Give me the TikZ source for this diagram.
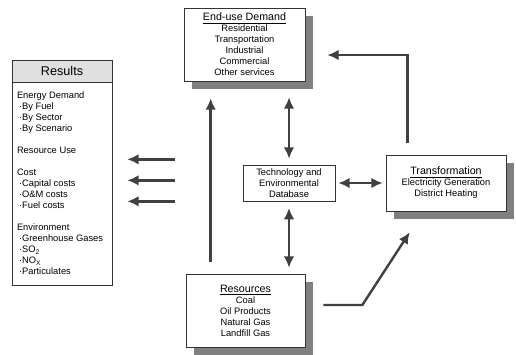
\documentclass[tikz,border=0pt]{standalone}
\usepackage{fontspec}
\setmainfont{Liberation Sans}
\usetikzlibrary{positioning,arrows.meta,calc,shadows}

\begin{document}
\begin{tikzpicture}[x=.75pt,y=-.75pt,>={Latex[length=8.5pt,width=8pt]},
  box/.style={draw=black!80,line width=.5pt,fill=white,align=center,inner sep=0pt,
    font=\fontsize{7}{8.25}\selectfont},
  shadowbox/.style={box,drop shadow={shadow xshift=6pt,shadow yshift=-6pt,
    fill=black!50,opacity=1}},
  flow/.style={draw=black!75,line width=1.8pt}]
 \useasboundingbox (0,0) rectangle (516,354);
 % boxes
 \node[shadowbox,minimum width=90.75pt,minimum height=54.75pt] (eud) at (244.5,44.5)
   {{\fontsize{8}{9}\selectfont\underline{End-use Demand}}\\Residential\\
    Transportation\\Industrial\\Commercial\\Other services};
 \node[box,minimum width=69pt,minimum height=27pt] (tech) at (289,183)
   {Technology and\\Environmental\\Database};
 \node[shadowbox,minimum width=90pt,minimum height=42pt] (trans) at (446,183)
   {{\fontsize{8}{9}\selectfont\underline{Transformation}}\\Electricity Generation\\
    District Heating};
 \node[shadowbox,minimum width=89.25pt,minimum height=54.75pt] (res) at (245.5,310.5)
   {{\fontsize{8}{9}\selectfont\underline{Resources}}\\Coal\\Oil Products\\
    Natural Gas\\Landfill Gas};
 \node[box,fill=black!12,minimum width=75pt,minimum height=16.5pt,
   font=\fontsize{9.5}{11}\selectfont] (restitle) at (62,71) {Results};
 \node[box,anchor=north,align=left,inner xsep=3.75pt,inner ysep=4pt] (resbody)
   at (restitle.south) {\parbox[t][144.25pt][t]{67.5pt}{\raggedright
   \rule{0pt}{8pt}Energy Demand\\
   \hspace*{1.5pt}·By Fuel\\
   \hspace*{1.5pt}·By Sector\\
   \hspace*{1.5pt}·By Scenario\\[8.25pt]
   Resource Use\\[8.25pt]
   Cost\\
   \hspace*{1.5pt}·Capital costs\\
   \hspace*{1.5pt}·O\&M costs\\
   \hspace*{1.5pt}·Fuel costs\\[8.25pt]
   Environment\\
   \hspace*{1.5pt}·Greenhouse Gases\\
   \hspace*{1.5pt}·SO\textsubscript{2}\\
   \hspace*{1.5pt}·NO\textsubscript{X}\\
   \hspace*{1.5pt}·Particulates}};
 % connectors
 \draw[flow,->] ($(res.north west)+(25,-12)$) -- ($(eud.south west)+(27,17)$);
 \draw[flow,<->,shorten <=12pt,shorten >=4.5pt] (tech.north |- eud.south) -- (tech.north);
 \draw[flow,<->,shorten <=5pt,shorten >=4.5pt] (tech.south) -- (tech.south |- res.north);
 \draw[flow,<->,shorten <=2.25pt,shorten >=2.25pt] (tech.east) -- (tech.east -| trans.west);
 \draw[flow,->] ($(trans.north west)+(22,-12)$) |- ($(eud.east)+(22,10.5)$);
 \draw[flow,->] ($(res.east)+(18,-5.5)$) -- ++(39,0) -- ($(trans.south west)+(24,21)$);
 \foreach \dy in {77,98,119}
   \draw[flow,->] ($(resbody.north east)+(63,\dy)$) -- ($(resbody.north east)+(15,\dy)$);
\end{tikzpicture}
\end{document}
